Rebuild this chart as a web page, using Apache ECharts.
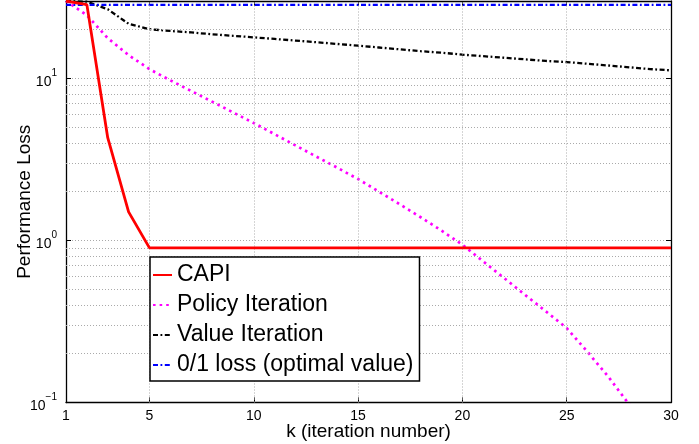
<!DOCTYPE html>
<html>
<head>
<meta charset="utf-8">
<script src="https://cdn.jsdelivr.net/npm/echarts@6/dist/echarts.min.js"></script>
<style>
html,body{margin:0;padding:0;background:#fff;}
#chart{width:699px;height:444px;}
</style>
</head>
<body>
<div id="chart"></div>
<script>
// ---- data ----
const iterations = [1,2,3,4,5,6,7,8,9,10,11,12,13,14,15,16,17,18,19,20,21,22,23,24,25,26,27,28,29,30];
const capiLoss   = [30, 28.5, 4.3, 1.5, 0.9, 0.9, 0.9, 0.9, 0.9, 0.9, 0.9, 0.9, 0.9, 0.9, 0.9,
                    0.9, 0.9, 0.9, 0.9, 0.9, 0.9, 0.9, 0.9, 0.9, 0.9, 0.9, 0.9, 0.9, 0.9, 0.9];
const policyLoss = [30, 24.5, 17.7, 13.9, 11.4, 9.72, 8.36, 7.18, 6.17, 5.30, 4.52, 3.86, 3.29, 2.81, 2.39,
                    2.00, 1.67, 1.39, 1.15, 0.94, 0.742, 0.586, 0.462, 0.365, 0.288, 0.205, 0.144, 0.097, 0.065, 0.043];
const valueLoss  = [30, 29.7, 26.7, 21.7, 20.1, 19.6, 19.2, 18.7, 18.3, 17.9, 17.5, 17.1, 16.7, 16.3, 15.9,
                    15.5, 15.1, 14.7, 14.4, 14.0, 13.7, 13.4, 13.1, 12.8, 12.6, 12.3, 12.0, 11.7, 11.4, 11.2];
const optimalLoss = [28.4, 28.4, 28.4, 28.4, 28.4, 28.4, 28.4, 28.4, 28.4, 28.4, 28.4, 28.4, 28.4, 28.4, 28.4,
                     28.4, 28.4, 28.4, 28.4, 28.4, 28.4, 28.4, 28.4, 28.4, 28.4, 28.4, 28.4, 28.4, 28.4, 28.4];
const seriesNames = ['CAPI', 'Policy Iteration', 'Value Iteration', '0/1 loss (optimal value)'];
const xTickValues = [1, 5, 10, 15, 20, 25, 30];
const xGridValues = [5, 10, 15, 20, 25];
const yMinorGridValues = [0.2,0.3,0.4,0.5,0.6,0.7,0.8,0.9,2,3,4,5,6,7,8,9,20];
const xTitle = 'k (iteration number)';
const yTitle = 'Performance Loss';

const FONT = 'Liberation Sans, Arial, Helvetica, sans-serif';
const pairs = arr => iterations.map((k, i) => [k, arr[i]]);
const GRID_STYLE = {color: '#aaa', width: 1, type: [1, 2]};

const chart = echarts.init(document.getElementById('chart'), null, {renderer: 'canvas'});

function logLabel(v) {
  const e = Math.log10(v);
  const r = Math.round(e);
  if (Math.abs(e - r) > 1e-6) return '';
  const exp = r < 0 ? '\u2212' + (-r) : String(r);
  return '{b|10}{s|' + exp + '}';
}

chart.setOption({
  animation: false,
  backgroundColor: '#fff',
  textStyle: {fontFamily: FONT},
  grid: {left: 66, right: 28, top: 1, bottom: 41.5, containLabel: false, outerBoundsMode: 'none'},
  legend: {
    orient: 'vertical',
    left: 150, top: 257,
    backgroundColor: '#fff',
    borderColor: '#000', borderWidth: 1.5,
    padding: [5, 6, 3, 2],
    itemGap: 4,
    itemWidth: 19, itemHeight: 10,
    itemStyle: {opacity: 0},
    textStyle: {fontSize: 23, color: '#000', fontFamily: FONT, lineHeight: 26},
    data: seriesNames,
    z: 20
  },
  xAxis: [{
    type: 'value', min: 1, max: 30, position: 'bottom',
    name: xTitle, nameLocation: 'middle', nameGap: 20, nameMoveOverlap: false,
    nameTextStyle: {fontSize: 19, color: '#000', fontFamily: FONT},
    axisLine: {show: true, onZero: false, lineStyle: {color: '#000', width: 1.3}},
    axisTick: {show: true, inside: true, length: 5, customValues: xTickValues, lineStyle: {color: '#000'}},
    axisLabel: {show: true, customValues: xTickValues, fontSize: 14, color: '#000', margin: 7, fontFamily: FONT},
    splitLine: {show: false}
  }, {
    type: 'value', min: 1, max: 30, position: 'top',
    axisLine: {show: true, onZero: false, lineStyle: {color: '#000', width: 1.3}},
    axisTick: {show: true, inside: true, length: 5, customValues: xTickValues, lineStyle: {color: '#000'}},
    axisLabel: {show: false},
    splitLine: {show: false}
  }],
  yAxis: [{
    type: 'log', logBase: 10, min: 0.1, max: 30, position: 'left',
    name: yTitle, nameLocation: 'middle', nameGap: 32, nameMoveOverlap: false,
    nameTextStyle: {fontSize: 19, color: '#000', fontFamily: FONT},
    axisLine: {show: true, onZero: false, lineStyle: {color: '#000', width: 1.3}},
    axisTick: {show: true, inside: true, length: 5, lineStyle: {color: '#000'}},
    axisLabel: {
      show: true, margin: 9, color: '#000', fontFamily: FONT,
      padding: [8, 0, 0, 0],
      formatter: logLabel,
      rich: {
        b: {fontSize: 14, lineHeight: 28, verticalAlign: 'middle', color: '#000', fontFamily: FONT},
        s: {fontSize: 10, lineHeight: 10, verticalAlign: 'top', color: '#000', fontFamily: FONT}
      }
    },
    splitLine: {show: true, lineStyle: GRID_STYLE}
  }, {
    type: 'log', logBase: 10, min: 0.1, max: 30, position: 'right',
    axisLine: {show: true, onZero: false, lineStyle: {color: '#000', width: 1.3}},
    axisTick: {show: true, inside: true, length: 5, lineStyle: {color: '#000'}},
    axisLabel: {show: false},
    splitLine: {show: false}
  }],
  series: [
    {
      name: '_grid', type: 'line', data: [], xAxisIndex: 0, yAxisIndex: 0, z: 1,
      silent: true,
      markLine: {
        silent: true, symbol: 'none', animation: false,
        label: {show: false},
        lineStyle: GRID_STYLE,
        data: yMinorGridValues.map(v => ({yAxis: v})).concat(xGridValues.map(v => ({xAxis: v})))
      }
    },
    {
      name: seriesNames[0], type: 'line', data: pairs(capiLoss), showSymbol: false, symbol: 'none',
      xAxisIndex: 0, yAxisIndex: 0, z: 5,
      lineStyle: {color: '#ff0000', width: 2.8, type: 'solid'},
      itemStyle: {color: '#ff0000'}
    },
    {
      name: seriesNames[1], type: 'line', data: pairs(policyLoss), showSymbol: false, symbol: 'none',
      xAxisIndex: 0, yAxisIndex: 0, z: 4,
      lineStyle: {color: '#ff00ff', width: 2.7, type: [2.6, 4]},
      itemStyle: {color: '#ff00ff'}
    },
    {
      name: seriesNames[2], type: 'line', data: pairs(valueLoss), showSymbol: false, symbol: 'none',
      xAxisIndex: 0, yAxisIndex: 0, z: 4,
      lineStyle: {color: '#000000', width: 2.3, type: [5, 2.5, 1.8, 2.5]},
      itemStyle: {color: '#000000'}
    },
    {
      name: seriesNames[3], type: 'line', data: pairs(optimalLoss), showSymbol: false, symbol: 'none',
      xAxisIndex: 0, yAxisIndex: 0, z: 4,
      lineStyle: {color: '#0000ff', width: 2.3, type: [5, 2.5, 1.8, 2.5]},
      itemStyle: {color: '#0000ff'}
    }
  ]
});
</script>
</body>
</html>
